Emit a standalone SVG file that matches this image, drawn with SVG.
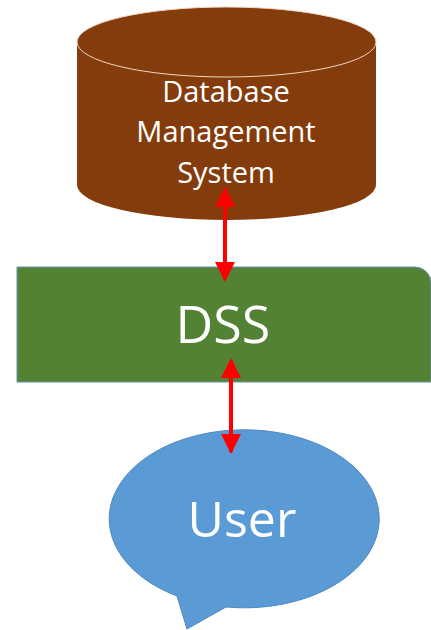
<svg xmlns="http://www.w3.org/2000/svg" width="431" height="630" viewBox="0 0 431 630">
  <style>
    .label { font-family: "Open Sans", "Liberation Sans", sans-serif; fill: #ffffff; text-anchor: middle; }
    .link { stroke: #ff0000; stroke-width: 4; fill: none; }
  </style>
  <defs>
    <marker id="head" viewBox="0 0 10 10" refX="9" refY="5" markerWidth="5" markerHeight="5" orient="auto-start-reverse" markerUnits="strokeWidth">
      <path d="M0,0 L10,5 L0,10 Z" fill="#ff0000"/>
    </marker>
  </defs>
  <rect width="431" height="630" fill="#ffffff"/>

  <!-- database cylinder -->
  <g id="dbms">
    <path d="M77,42 L77,185 A149.5,35 0 0 0 376,185 L376,42 Z" fill="#843c0c"/>
    <ellipse cx="226.5" cy="42" rx="149.5" ry="35" fill="#843c0c" stroke="#f2d6c4" stroke-width="1"/>
    <text class="label" x="226" y="102" font-size="29">Database</text>
    <text class="label" x="226" y="142" font-size="29">Management</text>
    <text class="label" x="226" y="183" font-size="29">System</text>
  </g>

  <!-- decision support system block, single rounded corner -->
  <g id="dss">
    <path d="M17,267 L415,267 A16,16 0 0 1 431,283 L431,382 L17,382 Z" fill="#548235" stroke="#6b8fb3" stroke-width="1"/>
    <text class="label" x="223" y="343" font-size="52">DSS</text>
  </g>

  <!-- user speech bubble -->
  <g id="user">
    <path d="M177,596 A135,89 0 1 1 226,607 L187,629 Z" fill="#5b9bd5" stroke="#4f88bd" stroke-width="1"/>
    <text class="label" x="242" y="537" font-size="50">User</text>
  </g>

  <g id="connectors">
    <line class="link" x1="225" y1="189" x2="225" y2="280" marker-start="url(#head)" marker-end="url(#head)"/>
    <line class="link" x1="231" y1="360" x2="231" y2="452" marker-start="url(#head)" marker-end="url(#head)"/>
  </g>
</svg>
